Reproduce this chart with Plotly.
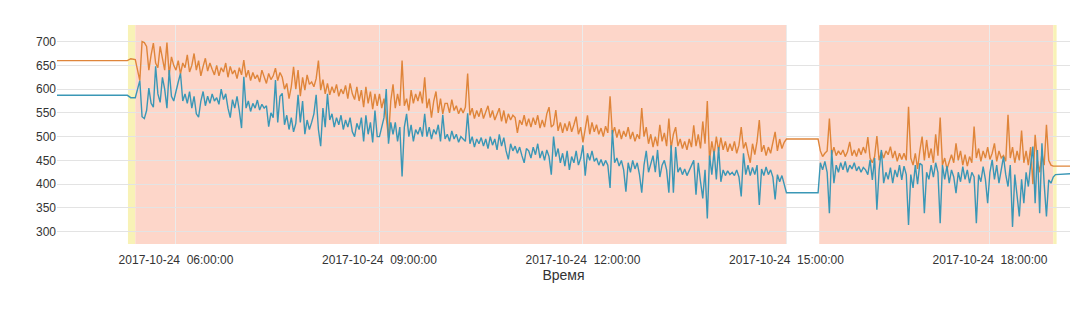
import pandas as pd
import plotly.graph_objects as go

# --- data -----------------------------------------------------------------
DAY = "2017-10-24"

# steady readings before the run starts
lead_times = [f"{DAY} 04:14", f"{DAY} 05:17", f"{DAY} 05:20"]
orange_lead = [660, 660, 664]
blue_lead = [587, 587, 582]

# main run, 2-minute samples 05:24 .. 15:00
morning_times = pd.date_range(f"{DAY} 05:24", f"{DAY} 15:00", freq="2min")
orange_morning = [
    # 05:24 - 05:58
    662, 640, 618, 700, 698, 690, 640, 672, 697, 655, 645, 690, 660, 640, 698, 630, 668, 650,
    # 06
    640, 660, 632, 655, 645, 672, 636, 650, 675, 640, 660, 628, 648, 665, 638,
    655, 642, 630, 650, 628, 645, 636, 655, 625, 648, 632, 640, 622, 645, 630,
    # 07
    661, 625, 640, 618, 635, 622, 630, 615, 640, 628, 612, 633, 620, 628, 644,
    618, 635, 625, 600, 612, 580, 605, 647, 600, 640, 585, 625, 598, 630, 610,
    # 08
    615, 605, 622, 660, 598, 620, 590, 612, 588, 605, 592, 610, 585, 600, 590,
    608, 580, 612, 590, 578, 605, 575, 598, 562, 605, 570, 595, 558, 590, 565,
    # 09
    590, 560, 580, 540, 498, 575, 610, 560, 590, 565, 660, 565, 580, 555, 598,
    570, 590, 575, 595, 570, 625, 560, 580, 540, 575, 595, 550, 580, 548, 570,
    # 10
    570, 550, 578, 555, 565, 548, 560, 550, 562, 633, 545, 560, 538, 555, 542,
    560, 538, 552, 565, 540, 555, 535, 550, 560, 532, 555, 528, 548, 535, 545,
    # 11
    540, 508, 535, 525, 545, 522, 538, 520, 540, 525, 545, 518, 535, 520, 548,
    562, 520, 525, 556, 512, 530, 508, 528, 512, 532, 510, 525, 542, 505, 520,
    # 12
    488, 520, 545, 505, 530, 510, 525, 505, 518, 500, 522, 508, 585, 505, 520,
    498, 515, 495, 512, 500, 520, 495, 510, 490, 505, 495, 560, 500, 520, 485,
    # 13
    505, 478, 500, 480, 525, 490, 508, 480, 538, 475, 505, 520, 480, 495, 475,
    490, 472, 495, 478, 524, 480, 505, 475, 532, 485, 575, 450, 490, 462, 500,
    # 14 .. 15:00
    470, 498, 472, 490, 468, 485, 470, 490, 465, 482, 520, 475, 488, 465, 445,
    485, 462, 490, 535, 468, 482, 460, 478, 465, 485, 510, 470, 495, 475, 488, 495,
]
blue_morning = [
    # 05:24 - 05:58
    582, 600, 618, 542, 538, 555, 602, 570, 562, 648, 590, 572, 625, 600, 560, 640, 585, 575,
    # 06
    598, 615, 633, 575, 590, 570, 595, 560, 585, 548, 541, 575, 595, 565, 585,
    570, 590, 575, 582, 568, 600, 578, 590, 560, 540, 578, 560, 585, 555, 518,
    # 07
    626, 560, 575, 553, 570, 560, 577, 556, 568, 560, 565, 521, 550, 540, 619,
    530, 585, 591, 525, 545, 515, 540, 510, 528, 588, 530, 575, 505, 535, 515,
    # 08
    530, 548, 588, 515, 480, 560, 520, 590, 535, 548, 520, 540, 525, 545, 515,
    535, 520, 540, 510, 500, 528, 515, 540, 490, 545, 505, 530, 488, 555, 500,
    # 09
    500, 520, 540, 600, 485, 530, 505, 530, 490, 520, 416, 520, 548, 500, 525,
    490, 515, 505, 520, 500, 548, 500, 520, 495, 515, 505, 525, 490, 546, 495,
    # 10
    505, 490, 512, 495, 505, 488, 500, 495, 490, 549, 485, 500, 478, 495, 485,
    498, 480, 495, 475, 500, 482, 495, 472, 505, 480, 498, 470, 452, 485, 470,
    # 11
    480, 465, 478, 460, 445, 475, 470, 455, 478, 462, 485, 455, 470, 450, 472,
    458, 420, 500, 458, 475, 445, 465, 438, 470, 430, 458, 445, 470, 440, 455,
    # 12
    482, 418, 465, 450, 470, 448, 455, 440, 452, 438, 450, 440, 392, 514, 445,
    455, 438, 450, 430, 384, 445, 425, 450, 432, 445, 420, 382, 440, 470, 425,
    # 13
    440, 460, 425, 472, 415, 440, 450, 430, 382, 482, 382, 478, 425, 435, 420,
    432, 418, 430, 440, 450, 378, 445, 405, 370, 430, 328, 460, 420, 470, 410,
    # 14 .. 15:00
    478, 405, 430, 418, 428, 420, 425, 418, 430, 415, 374, 465, 420, 440, 418,
    435, 420, 440, 356, 432, 418, 436, 420, 430, 415, 368, 420, 405, 418, 402, 382,
]

# held value through the break
hold_times = [f"{DAY} 15:28"]
orange_hold = [495]
blue_hold = [382]

# second run, 2-minute samples 15:30 .. 18:58
afternoon_times = pd.date_range(f"{DAY} 15:30", f"{DAY} 18:58", freq="2min")
orange_afternoon = [
    470, 458, 465, 470, 538, 462, 478, 460, 470, 462, 472, 458, 468, 489, 460,
    472, 458, 475, 462, 478, 465, 499, 455, 445, 458, 501, 450, 468, 455, 470,
    462, 479, 455, 470, 448, 465, 452, 465, 450, 563, 455, 440, 465, 432, 470,
    500, 450, 493, 455, 475, 445, 505, 460, 540, 440, 455, 432, 450, 462, 445,
    486, 450, 470, 440, 462, 438, 458, 445, 521, 455, 475, 448, 470, 455, 478,
    452, 465, 486, 448, 470, 455, 460, 448, 546, 455, 478, 445, 470, 450, 513,
    445, 470, 440, 478, 400, 504, 450, 425, 465, 440, 525, 450, 440, 438, 438,
]
blue_afternoon = [
    445, 430, 448, 425, 339, 472, 402, 440, 425, 445, 430, 448, 425, 440, 432,
    445, 428, 437, 425, 435, 430, 420, 451, 409, 455, 346, 430, 472, 402, 425,
    410, 435, 402, 430, 415, 440, 409, 438, 420, 314, 420, 392, 440, 400, 444,
    440, 339, 425, 410, 440, 415, 445, 425, 318, 440, 410, 438, 402, 430, 415,
    381, 425, 405, 437, 410, 430, 402, 425, 415, 318, 420, 405, 437, 410, 360,
    425, 451, 410, 440, 402, 430, 458, 420, 395, 440, 310, 420, 380, 332, 410,
    360, 425, 395, 440, 479, 360, 472, 339, 486, 400, 332, 409, 402, 415, 420,
]

# steady readings after the run
tail_times = [f"{DAY} 19:12"]
orange_tail = [438]
blue_tail = [422]

# shaded periods: (start, end, colour)
periods = [
    (f"{DAY} 05:17:30", f"{DAY} 05:24", "#F8F2B6"),
    (f"{DAY} 05:24", f"{DAY} 15:00", "#FDD6C9"),
    (f"{DAY} 15:29", f"{DAY} 18:56", "#FDD6C9"),
    (f"{DAY} 18:56", f"{DAY} 18:59", "#F8F2B6"),
]

tick_vals = [f"{DAY} 06:00", f"{DAY} 09:00", f"{DAY} 12:00", f"{DAY} 15:00", f"{DAY} 18:00"]
tick_text = [f"{DAY}\u00a0 06:00:00", f"{DAY}\u00a0 09:00:00", f"{DAY}\u00a0 12:00:00",
             f"{DAY}\u00a0 15:00:00", f"{DAY}\u00a0 18:00:00"]
y_ticks = [300, 350, 400, 450, 500, 550, 600, 650, 700]

assert len(morning_times) == len(orange_morning) == len(blue_morning)
assert len(afternoon_times) == len(orange_afternoon) == len(blue_afternoon)

# --- assemble series --------------------------------------------------------
times = (list(pd.to_datetime(lead_times)) + list(morning_times) + list(pd.to_datetime(hold_times))
         + list(afternoon_times) + list(pd.to_datetime(tail_times)))
orange = orange_lead + orange_morning + orange_hold + orange_afternoon + orange_tail
blue = blue_lead + blue_morning + blue_hold + blue_afternoon + blue_tail

fig = go.Figure()
fig.add_trace(go.Scatter(x=times, y=orange, mode="lines",
                         line=dict(color="#DF853A", width=1.4), showlegend=False))
fig.add_trace(go.Scatter(x=times, y=blue, mode="lines",
                         line=dict(color="#3A97B6", width=1.4), showlegend=False))

for x0, x1, colour in periods:
    fig.add_shape(type="rect", xref="x", yref="paper", x0=x0, x1=x1, y0=0, y1=1,
                  fillcolor=colour, line=dict(width=0), layer="below")

fig.update_layout(
    width=1080, height=324,
    margin=dict(l=57, r=10, t=25, b=80),
    paper_bgcolor="white", plot_bgcolor="white",
    font=dict(family="Liberation Sans, Arial, sans-serif", size=12, color="#333333"),
)
fig.update_xaxes(
    range=[f"{DAY} 04:14:45", f"{DAY} 19:10:50"],
    tickvals=tick_vals, ticktext=tick_text,
    showgrid=True, gridcolor="#EBEBEB", gridwidth=1,
    zeroline=False, showline=False, ticks="",
    ticklabelstandoff=7,
    title=dict(text="Время", standoff=4),
)
fig.update_yaxes(
    range=[274, 735], tickvals=y_ticks,
    showgrid=True, gridcolor="#E3E3E3", gridwidth=1,
    zeroline=False, showline=False, ticks="",
)

fig.write_html("out.html")
